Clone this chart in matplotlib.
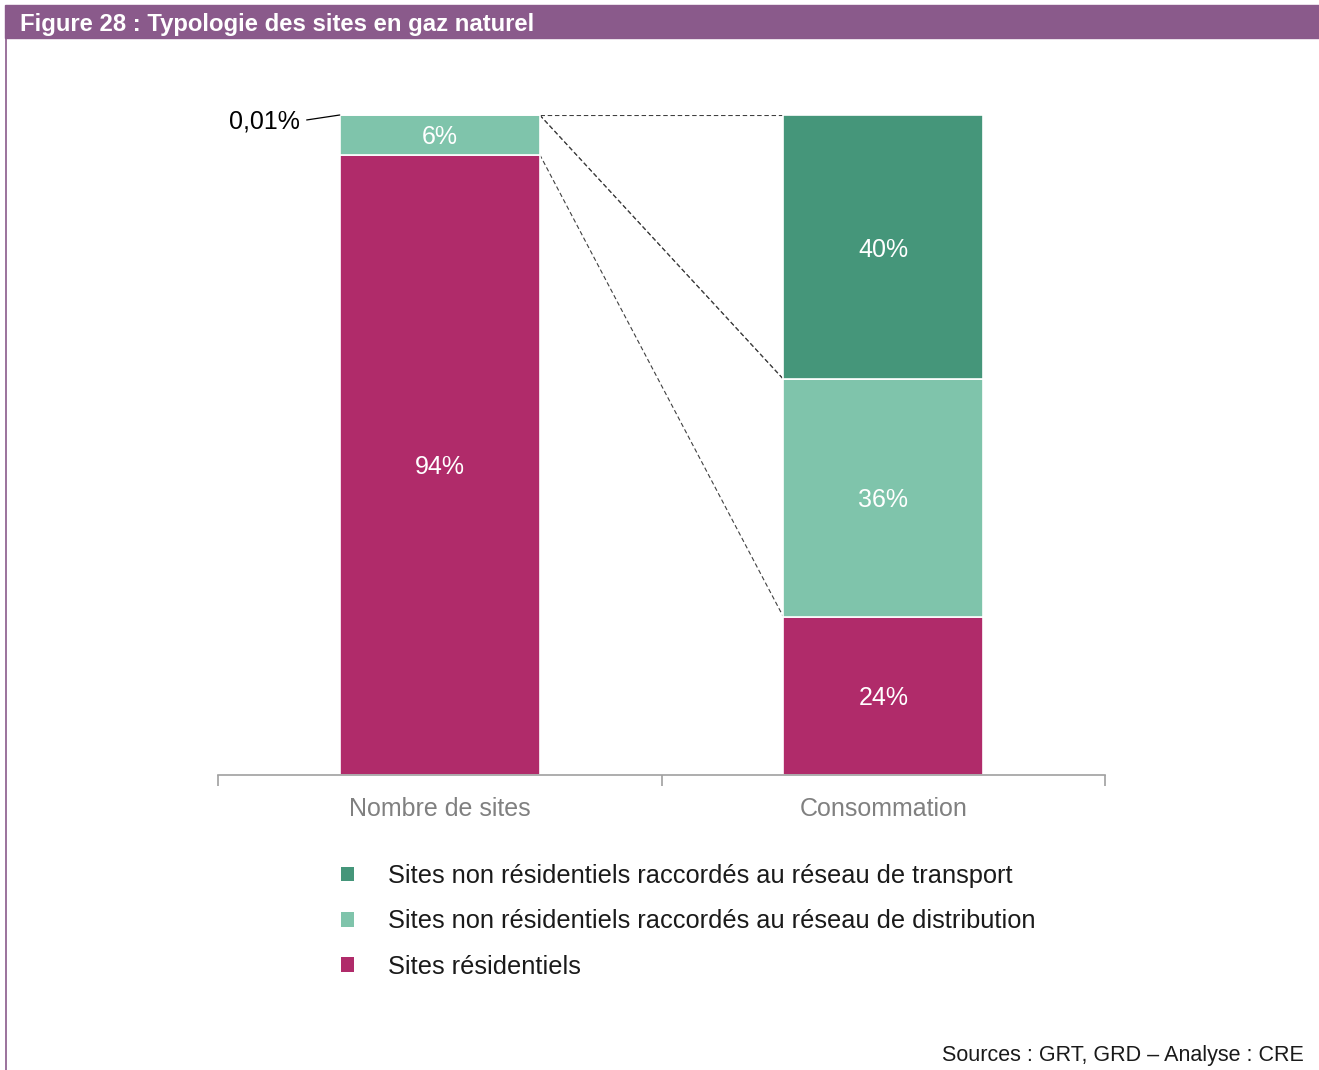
import matplotlib
matplotlib.use("Agg")
import matplotlib.pyplot as plt
from matplotlib.patches import Patch, Rectangle
from matplotlib.lines import Line2D
import numpy as np

plt.rcParams['font.family'] = ['Liberation Sans', 'DejaVu Sans']

# ---- data ----
categories = ["Nombre de sites", "Consommation"]
series_names = [
    "Sites non résidentiels raccordés au réseau de transport",
    "Sites non résidentiels raccordés au réseau de distribution",
    "Sites résidentiels",
]
# stacking order bottom -> top: résidentiels, distribution, transport
residentiels = [94, 24]
distribution = [5.99, 36]
transport = [0.01, 40]
labels_residentiels = ["94%", "24%"]
labels_distribution = ["6%", "36%"]
labels_transport = ["", "40%"]
small_label = "0,01%"
title = "Figure 28 : Typologie des sites en gaz naturel"
source = "Sources : GRT, GRD \u2013 Analyse : CRE"

col_transport = "#45967A"
col_distribution = "#7FC4AB"
col_residentiels = "#B02B6A"
col_header = "#8A5A8B"

W, H = 1319, 1070
fig = plt.figure(figsize=(W / 100, H / 100), dpi=100)
fig.patch.set_facecolor("white")

# header band and left frame line
fig.patches.append(Rectangle((5 / W, 1 - 38 / H), 1 - 5 / W, 33 / H,
                             transform=fig.transFigure, color=col_header, zorder=0))
fig.lines.append(Line2D([5.5 / W, 5.5 / W], [0, 1 - 38 / H], transform=fig.transFigure,
                        color=col_header, lw=1.2))
fig.text(20 / W, 1 - 24 / H, title, color="white", fontsize=17.2, fontweight="bold",
         va="center", ha="left")

ax = fig.add_axes([218 / W, 1 - 775 / H, 887 / W, 660 / H])
x = np.arange(len(categories))
bw = 200 / 443.5

bottoms = np.zeros(len(categories))
segs = []
for vals, col, labs in [(residentiels, col_residentiels, labels_residentiels),
                        (distribution, col_distribution, labels_distribution),
                        (transport, col_transport, labels_transport)]:
    vals = np.array(vals, dtype=float)
    ax.bar(x, vals, bw, bottom=bottoms, color=col, edgecolor="white",
           linewidth=1.2, zorder=2)
    for xi, b, v, lab in zip(x, bottoms, vals, labs):
        if lab:
            ax.text(xi, b + v / 2, lab, color="white", fontsize=18, ha="center",
                    va="center_baseline", zorder=4)
    segs.append((bottoms.copy(), bottoms + vals))
    bottoms = bottoms + vals

# dashed connectors for non-residential segments
for lo, hi in segs[1:]:
    for yl, yr in [(lo[0], lo[1]), (hi[0], hi[1])]:
        ax.plot([x[0] + bw / 2, x[1] - bw / 2], [yl, yr], color="#404040", lw=0.8,
                ls=(0, (4, 2.5)), zorder=1)

# small label for 0,01%
ax.annotate(small_label, xy=(x[0] - bw / 2, bottoms[0]), xytext=(-40, -6),
            textcoords="offset pixels", ha="right", va="center", fontsize=18,
            color="black",
            arrowprops=dict(arrowstyle="-", color="black", lw=0.9, relpos=(1, 0.5),
                            shrinkA=3, shrinkB=0))

ax.set_xlim(-0.5, 1.5)
ax.set_ylim(0, 100)
for s in ["top", "right", "left"]:
    ax.spines[s].set_visible(False)
ax.spines["bottom"].set_color("#a0a0a0")
ax.spines["bottom"].set_linewidth(1.2)
ax.spines["bottom"].set_zorder(5)
ax.set_yticks([])
ax.set_xticks(x)
ax.set_xticklabels(categories, fontsize=18, color="#808080")
ax.tick_params(axis="x", which="major", length=0, pad=16)
ax.set_xticks([-0.5, 0.5, 1.5], minor=True)
ax.tick_params(axis="x", which="minor", length=8, width=1.2, color="#a0a0a0",
               direction="out")

handles = [Patch(facecolor=col_transport), Patch(facecolor=col_distribution),
           Patch(facecolor=col_residentiels)]
leg = fig.legend(handles, series_names, loc="upper left",
                 bbox_to_anchor=(341 / W, 1 - 864 / H), frameon=False, fontsize=18.3,
                 handlelength=0.52, handleheight=0.52, handletextpad=1.32,
                 labelspacing=0.84, borderpad=0, borderaxespad=0)
for t in leg.get_texts():
    t.set_color("#1a1a1a")

fig.text(1304 / W, 1 - 1056 / H, source, fontsize=15.5, color="#1a1a1a",
         ha="right", va="center")

fig.savefig("out.png", dpi=100)
